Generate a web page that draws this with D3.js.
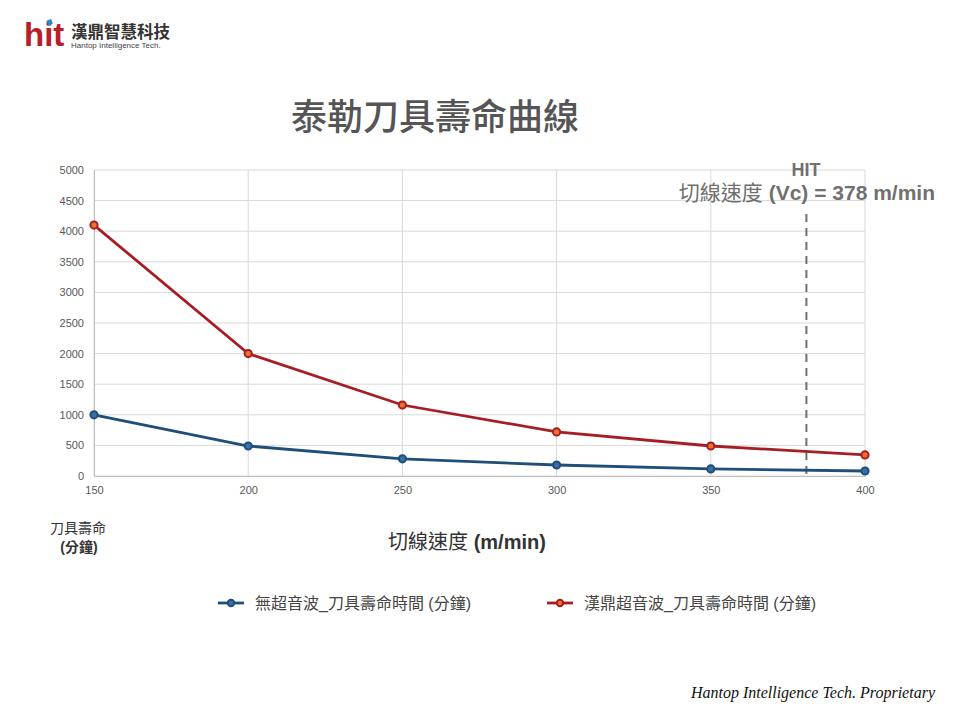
<!DOCTYPE html>
<html>
<head>
<meta charset="utf-8">
<script src="https://cdn.jsdelivr.net/npm/d3@7"></script>
<style>
  body { margin: 0; background: #fff; }
  svg { display: block; font-family: "Liberation Sans", Arial, "Noto Sans CJK TC", sans-serif; }
</style>
</head>
<body>
<div id="chart"></div>
<script>
/* DATA */
const speeds = [150, 200, 250, 300, 350, 400];
const lifeNoUltrasonic = [1000, 490, 280, 180, 115, 82];
const lifeHit = [4100, 2000, 1160, 720, 490, 345];
const yTicks = [0, 500, 1000, 1500, 2000, 2500, 3000, 3500, 4000, 4500, 5000];
const seriesNames = ["無超音波_刀具壽命時間 (分鐘)", "漢鼎超音波_刀具壽命時間 (分鐘)"];
const hitSpeedLine = 381;

/* CONSTANTS */
const width = 960, height = 720;
const margin = { top: 170, right: 95, bottom: 244, left: 94 };
const blue = "#1f4e79", red = "#a61e25";
const cjk = "'Liberation Sans', Arial, 'Noto Sans CJK TC', sans-serif";

const svg = d3.select("#chart").append("svg")
  .attr("width", width).attr("height", height);

// SCALES
const xScale = d3.scaleLinear().domain([150, 400]).range([margin.left, width - margin.right]);
const yScale = d3.scaleLinear().domain([0, 5000]).range([height - margin.bottom, margin.top]);

// LOGO ========================================
const logo = svg.append("g");
logo.append("text").attr("x", 24).attr("y", 46)
  .style("font-family", "'Liberation Sans', Arial, sans-serif")
  .style("font-size", "33px").style("font-weight", "bold")
  .attr("fill", "#b5202a").text("hit");
logo.append("rect").attr("x", 47).attr("y", 20).attr("width", 5).attr("height", 5)
  .attr("fill", "#1e88d0").attr("transform", "rotate(-20 49 22)");
logo.append("text").attr("x", 71).attr("y", 38)
  .style("font-size", "16.5px").style("font-weight", "bold").style("font-family", cjk)
  .attr("fill", "#333").text("漢鼎智慧科技");
logo.append("text").attr("x", 71).attr("y", 48)
  .style("font-size", "8px").style("font-family", "'Liberation Sans', Arial, sans-serif")
  .attr("fill", "#444").text("Hantop Intelligence Tech.");

// TITLE
svg.append("text").attr("x", 435).attr("y", 130).attr("text-anchor", "middle")
  .style("font-size", "36px").style("font-weight", "500").style("font-family", cjk)
  .attr("fill", "#555").text("泰勒刀具壽命曲線");

// GRID ========================================
svg.append("g").selectAll("line").data(yTicks).join("line")
  .attr("x1", margin.left).attr("x2", width - margin.right)
  .attr("y1", d => yScale(d)).attr("y2", d => yScale(d))
  .attr("stroke", "#d9d9d9").attr("stroke-width", 1);
svg.append("g").selectAll("line").data(speeds).join("line")
  .attr("x1", d => xScale(d)).attr("x2", d => xScale(d))
  .attr("y1", yScale(5000)).attr("y2", yScale(0))
  .attr("stroke", "#d9d9d9").attr("stroke-width", 1);

// AXES
const yAxis = svg.append("g")
  .attr("transform", `translate(${margin.left},0)`)
  .call(d3.axisLeft(yScale).tickValues(yTicks).tickFormat(d3.format("d")).tickSize(0).tickPadding(10));
const xAxis = svg.append("g")
  .attr("transform", `translate(0,${yScale(0)})`)
  .call(d3.axisBottom(xScale).tickValues(speeds).tickFormat(d3.format("d")).tickSize(0).tickPadding(10));
[xAxis, yAxis].forEach(ax => {
  ax.select(".domain").attr("stroke", "#bfbfbf");
  ax.selectAll("text").style("font-size", "11px").attr("fill", "#595959")
    .style("font-family", "'Liberation Sans', Arial, sans-serif");
});

// HIT VERTICAL LINE
svg.append("line")
  .attr("x1", xScale(hitSpeedLine)).attr("x2", xScale(hitSpeedLine))
  .attr("y1", 214).attr("y2", yScale(0))
  .attr("stroke", "#6f6f6f").attr("stroke-width", 2).attr("stroke-dasharray", "8,6");
svg.append("text").attr("x", 806).attr("y", 176).attr("text-anchor", "middle")
  .style("font-size", "18px").style("font-weight", "bold").attr("fill", "#707070").text("HIT");
const hitLabel = svg.append("text").attr("x", 935).attr("y", 200).attr("text-anchor", "end")
  .style("font-size", "21px").style("font-family", cjk).attr("fill", "#707070");
hitLabel.append("tspan").text("切線速度 ");
hitLabel.append("tspan").style("font-weight", "bold").text("(Vc) = 378 m/min");

// LINES =======================================
const series = [
  { name: seriesNames[0], values: lifeNoUltrasonic, color: blue, inner: "#3b6fa8" },
  { name: seriesNames[1], values: lifeHit, color: red, inner: "#e8742a" }
];
const line = d3.line().x((d, i) => xScale(speeds[i])).y(d => yScale(d));

series.forEach(s => {
  svg.append("path").datum(s.values)
    .attr("d", line).attr("fill", "none")
    .attr("stroke", s.color).attr("stroke-width", 2.8);
  svg.append("g").selectAll("circle").data(s.values).join("circle")
    .attr("cx", (d, i) => xScale(speeds[i])).attr("cy", d => yScale(d))
    .attr("r", 3.6).attr("fill", s.inner).attr("stroke", s.color).attr("stroke-width", 2);
});

// AXIS TITLES
const xTitle = svg.append("text").attr("x", 467).attr("y", 549).attr("text-anchor", "middle")
  .style("font-size", "20px").style("font-family", cjk).attr("fill", "#333");
xTitle.append("tspan").text("切線速度 ");
xTitle.append("tspan").style("font-weight", "bold").text("(m/min)");
const yTitle = svg.append("text").attr("text-anchor", "middle")
  .style("font-size", "14px").style("font-family", cjk).attr("fill", "#333");
yTitle.append("tspan").attr("x", 78).attr("y", 533).text("刀具壽命");
yTitle.append("tspan").attr("x", 79).attr("y", 552).style("font-weight", "bold").text("(分鐘)");

// LEGEND
const legendX = [218, 547];
series.forEach((s, i) => {
  const g = svg.append("g").attr("transform", `translate(${legendX[i]},603)`);
  g.append("line").attr("x1", 0).attr("x2", 26).attr("stroke", s.color).attr("stroke-width", 2.8);
  g.append("circle").attr("cx", 13).attr("r", 3.2).attr("fill", s.inner)
    .attr("stroke", s.color).attr("stroke-width", 2);
  g.append("text").attr("x", 37).attr("y", 6)
    .style("font-size", "16px").style("font-family", cjk).attr("fill", "#444").text(s.name);
});

// FOOTER
svg.append("text").attr("x", 935).attr("y", 698).attr("text-anchor", "end")
  .style("font-family", "'Liberation Serif', 'Times New Roman', serif")
  .style("font-style", "italic").style("font-size", "16px").attr("fill", "#111")
  .text("Hantop Intelligence Tech. Proprietary");
</script>
</body>
</html>
